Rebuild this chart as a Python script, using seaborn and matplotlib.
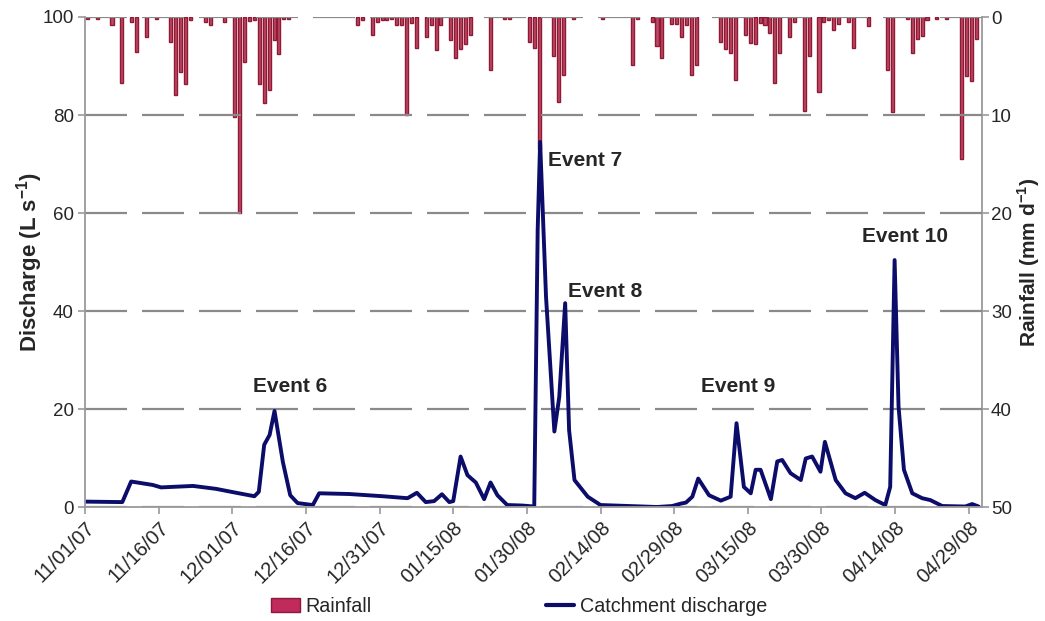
import matplotlib
matplotlib.use("Agg")
import matplotlib.pyplot as plt
import seaborn as sns
import numpy as np
from matplotlib.patches import Patch
from matplotlib.lines import Line2D

# ---------------- data ----------------
# days since 11/01/07
tick_days = [0, 15, 30, 45, 60, 75, 90, 105, 120, 135, 150, 165, 180]
tick_labels = ["11/01/07", "11/16/07", "12/01/07", "12/16/07", "12/31/07", "01/15/08",
               "01/30/08", "02/14/08", "02/29/08", "03/15/08", "03/30/08", "04/14/08", "04/29/08"]

# daily rainfall (mm/d), day index since 11/01/07
rain_day = [0, 2, 5, 7, 9, 10, 12, 14, 17, 18, 19, 20, 21, 24, 25, 28, 30, 31, 32, 33, 34, 35, 36, 37, 38, 39, 40, 41,
            55, 56, 58, 59, 60, 61, 62, 63, 64, 65, 66, 67, 69, 70, 71, 72, 74, 75, 76, 77, 78, 82, 85, 86,
            90, 91, 92, 95, 96, 97, 99, 105, 111, 112, 115, 116, 117, 119, 120, 121, 122, 123, 124,
            129, 130, 131, 132, 134, 135, 136, 137, 138, 139, 140, 141, 143, 144, 146, 147, 149, 150, 151,
            152, 153, 155, 156, 159, 163, 164, 167, 168, 169, 170, 171, 173, 175, 178, 179, 180, 181]
rain_mm = [0.2, 0.2, 0.8, 6.7, 0.5, 3.6, 2.0, 0.2, 2.6, 8.0, 5.6, 6.8, 0.3, 0.5, 0.8, 0.5, 10.2, 20.0, 4.6, 0.4, 0.3, 6.8, 8.8, 7.4, 2.3, 3.8, 0.2, 0.2,
           0.8, 0.3, 1.8, 0.5, 0.3, 0.3, 0.2, 0.8, 0.8, 10.0, 0.6, 3.2, 2.0, 0.8, 3.4, 0.8, 2.3, 4.2, 3.3, 2.8, 1.8, 5.4, 0.2, 0.2,
           2.5, 3.2, 13.5, 4.0, 8.7, 5.9, 0.2, 0.2, 4.9, 0.2, 0.5, 3.0, 4.2, 0.7, 0.7, 2.0, 0.8, 5.9, 4.9,
           2.5, 3.3, 3.7, 6.4, 1.8, 2.7, 2.8, 0.6, 0.8, 1.6, 6.7, 3.7, 2.0, 0.5, 9.6, 4.0, 7.7, 0.5, 0.3,
           1.3, 0.7, 0.5, 3.2, 0.9, 5.4, 9.7, 0.2, 3.7, 2.2, 1.9, 0.3, 0.2, 0.2, 14.5, 6.0, 6.5, 2.2]

# catchment discharge (L/s)
q_day = [0, 7.6, 9.4, 13.8, 15.5, 22, 26.7, 30.8, 34.5, 35.4, 36.5, 37.6, 38.6, 40.3, 41.8, 43.3, 46.4, 47.7,
         53.8, 60.6, 65.7, 67.6, 69.4, 71.1, 72.7, 74.2, 75, 76.5, 77.9, 79.6, 81.3, 82.6, 84, 86, 89,
         91.5, 92.2, 92.7, 93.9, 95.6, 96.6, 97.8, 98.6, 99.7, 102.4, 105, 116.5, 119.6, 121.4, 122.4,
         123.7, 124.9, 127.1, 129.5, 131.5, 132.7, 134.2, 135.6, 136.6, 137.6, 139.7, 141, 142, 143.7,
         145.8, 146.8, 148.1, 149.8, 150.7, 152.9, 154.9, 156.9, 158.8, 161, 163, 164, 164.9, 165.7,
         166.8, 168.5, 170.5, 172.2, 174.6, 179.3, 180.7, 182]
q_val = [1.1, 1.0, 5.2, 4.5, 4.0, 4.3, 3.7, 2.9, 2.2, 3.1, 12.7, 14.7, 19.6, 9.2, 2.4, 0.8, 0.4, 2.8,
         2.65, 2.2, 1.8, 2.9, 1.0, 1.2, 2.6, 1.0, 1.2, 10.3, 6.5, 5.0, 1.6, 5.0, 2.4, 0.4, 0.3,
         0.1, 56.5, 74.5, 42.9, 15.4, 22.5, 41.6, 15.7, 5.5, 2.1, 0.4, 0.0, 0.2, 0.7, 0.9,
         2.1, 5.8, 2.4, 1.3, 2.1, 17.1, 4.1, 2.8, 7.6, 7.6, 1.6, 9.3, 9.6, 6.9,
         5.5, 9.9, 10.3, 7.2, 13.3, 5.5, 2.8, 1.8, 2.9, 1.4, 0.4, 4.1, 50.4, 20.5,
         7.6, 2.8, 1.8, 1.4, 0.2, 0.1, 0.6, 0.1]

event_labels = ["Event 6", "Event 7", "Event 8", "Event 9", "Event 10"]
event_day = [41.7, 101.9, 106.0, 133.0, 167.0]
event_q = [24.5, 70.8, 44.0, 24.5, 55.3]

# ---------------- style ----------------
sns.set_theme(style="white")
plt.rcParams["font.family"] = ["Liberation Sans", "DejaVu Sans"]
plt.rcParams["mathtext.fontset"] = "custom"
plt.rcParams["mathtext.rm"] = "Liberation Sans"
plt.rcParams["mathtext.bf"] = "Liberation Sans:bold"

LINE_C = "#0c0c6a"
BAR_FACE = "#bb4865"
BAR_EDGE = "#901a33"
AXIS_C = "#9a9a9a"
GRID_C = "#8a8a8a"
TXT_C = "#262626"

fig = plt.figure(figsize=(10.45, 6.21), dpi=100)
ax = fig.add_axes([85 / 1045, 1 - 507 / 621, (982 - 85) / 1045, (507 - 17) / 621])
ax2 = ax.twinx()

# rainfall bars (hanging from the top, right axis inverted)
rain_pos = [d + 0.5 for d in rain_day]
sns.barplot(x=rain_pos, y=rain_mm, native_scale=True, orient="x", ax=ax2,
            color=BAR_FACE, edgecolor=BAR_EDGE, linewidth=1.0, width=0.62,
            saturation=1, errorbar=None)
ax2.set_ylim(50, 0)

# discharge line
sns.lineplot(x=q_day, y=q_val, ax=ax, color=LINE_C, linewidth=2.8, estimator=None)
for ln in ax.get_lines():
    ln.set_solid_joinstyle("round")
    ln.set_solid_capstyle("round")

ax.set_zorder(ax2.get_zorder() + 1)
ax.patch.set_visible(False)

ax.set_xlim(0, 182.7)
ax.set_ylim(0, 100)
ax.set_yticks([0, 20, 40, 60, 80, 100])
ax2.set_yticks([0, 10, 20, 30, 40, 50])
ax.set_xticks(tick_days)
ax.set_xticklabels(tick_labels, rotation=45, ha="right", rotation_mode="anchor")
ax2.set_xlim(0, 182.7)

ax.grid(axis="y", color=GRID_C, linewidth=1.6, linestyle=(0, (18.9, 6.75)))
ax.grid(axis="x", visible=False)
ax2.grid(False)

for a in (ax, ax2):
    a.spines["top"].set_visible(False)
    for s in ("left", "right", "bottom"):
        a.spines[s].set_color(AXIS_C)
        a.spines[s].set_linewidth(1.3)
ax.spines["right"].set_visible(False)
ax2.spines["left"].set_visible(False)
ax2.spines["bottom"].set_visible(False)

ax.tick_params(axis="both", which="both", direction="out", length=5, width=1.2,
               color=AXIS_C, labelcolor=TXT_C, labelsize=13.5, pad=3)
ax.tick_params(axis="x", pad=3, bottom=True, labelsize=14.5)
ax.tick_params(axis="y", left=True)
ax2.tick_params(axis="y", direction="out", length=5, width=1.2, color=AXIS_C,
                labelcolor=TXT_C, labelsize=13.5, right=True, pad=1.5)

ax.set_xlabel("")
ax.set_ylabel(r"Discharge (L s$^{\mathbf{-1}}$)", fontsize=16, fontweight="bold", color=TXT_C)
ax2.set_ylabel(r"Rainfall (mm d$^{\mathbf{-1}}$)", fontsize=15, fontweight="bold", color=TXT_C)
ax.yaxis.set_label_coords(-(85 - 45) / 897, 0.5)
ax2.yaxis.set_label_coords(1 + (1015 - 982) / 897, 0.5)

for lab, dx, qy in zip(event_labels, event_day, event_q):
    ax.text(dx, qy, lab, ha="center", va="center", fontsize=15, fontweight="bold", color=TXT_C)

handles = [Patch(facecolor="#c02a5c", edgecolor="#8a1a3a", linewidth=1.0),
           Line2D([0], [0], color=LINE_C, linewidth=3)]
fig.legend(handles, ["Rainfall", "Catchment discharge"], loc="center",
           bbox_to_anchor=(0.497, 0.024), ncol=2, frameon=False, fontsize=14.2,
           columnspacing=8.8, handlelength=1.45, handletextpad=0.3, labelcolor=TXT_C)

fig.savefig("out.png", dpi=100)
